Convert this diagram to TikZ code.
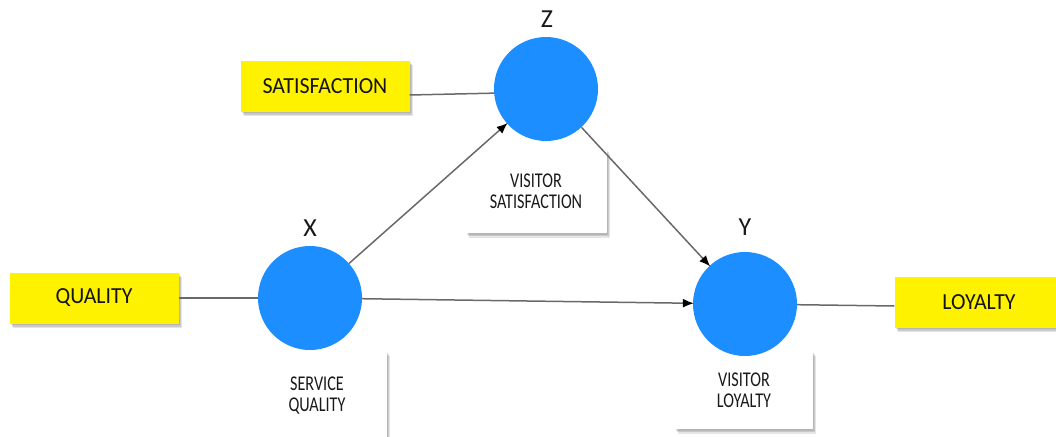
\documentclass[tikz,border=0pt]{standalone}
\usepackage{fontspec}
\setmainfont{Carlito}
\newfontfamily\bigfont[FakeStretch=0.95]{Carlito}
\newfontfamily\smallfont[FakeStretch=0.77]{Carlito}
\usetikzlibrary{arrows.meta,shadows}
\definecolor{nodeblue}{RGB}{28,142,255}
\definecolor{linegray}{RGB}{105,105,105}
\tikzset{
  softshadow/.style={
    general shadow={shadow xshift=1pt, shadow yshift=-1.5pt, fill=black, opacity=0.10},
    general shadow={shadow xshift=2pt, shadow yshift=-3pt, fill=black, opacity=0.12},
    general shadow={shadow xshift=3pt, shadow yshift=-4.5pt, fill=black, opacity=0.10}},
  ybox/.style={fill=yellow, minimum width=169pt, minimum height=51pt, inner sep=0pt,
    font=\bigfont\fontsize{23}{26}\selectfont, text=black!92, softshadow},
  wbox/.style={fill=white, inner sep=0pt, align=center,
    font=\smallfont\fontsize{21}{21}\selectfont, text=black!90, softshadow},
  var/.style={circle, fill=nodeblue, minimum size=104pt, inner sep=0pt},
  letter/.style={font=\fontsize{26}{28}\selectfont, text=black!90},
  link/.style={draw=linegray, line width=1.5pt},
  arr/.style={link, -{Latex[length=11pt, width=9pt, black]}, shorten >=-1pt}
}
\begin{document}
\begin{tikzpicture}[x=1pt, y=-1pt]
\useasboundingbox (0,0) rectangle (1056,436);
\clip (0,0) rectangle (1056,436);
% white label boxes
\node[wbox, minimum width=141pt, minimum height=84pt] (vsbox) at (536,191) {VISITOR\\SATISFACTION};
\node[wbox, minimum width=140pt, minimum height=90pt] (sqbox) at (317,396) {SERVICE\\QUALITY};
\node[wbox, minimum width=138pt, minimum height=78pt] (vlbox) at (744,390) {VISITOR\\LOYALTY};
% yellow boxes
\node[ybox] (sat) at (325,86) {SATISFACTION};
\node[ybox] (qual) at (94,298) {QUALITY};
\node[ybox] (loy) at (979,302) {LOYALTY};
% circle centres
\coordinate (Zc) at (546,89);
\coordinate (Xc) at (310,298);
\coordinate (Yc) at (745,304);
% connectors
\draw[link] ([yshift=-9pt]sat.east) -- ([yshift=-3pt]Zc);
\draw[link] (qual.east) -- (Xc);
\draw[link] (Yc) -- ([yshift=-4pt]loy.west);
% circles
\node[var] (Z) at (Zc) {};
\node[var] (X) at (Xc) {};
\node[var] (Y) at (Yc) {};
\draw[arr] (X) -- (Z);
\draw[arr] (Z) -- (Y);
\draw[arr] (X) -- (Y);
% letters
\node[letter] (zl) at (547,19) {Z};
\node[letter] (xl) at (310,228) {X};
\node[letter] (yl) at (745,227) {Y};
\end{tikzpicture}
\end{document}
